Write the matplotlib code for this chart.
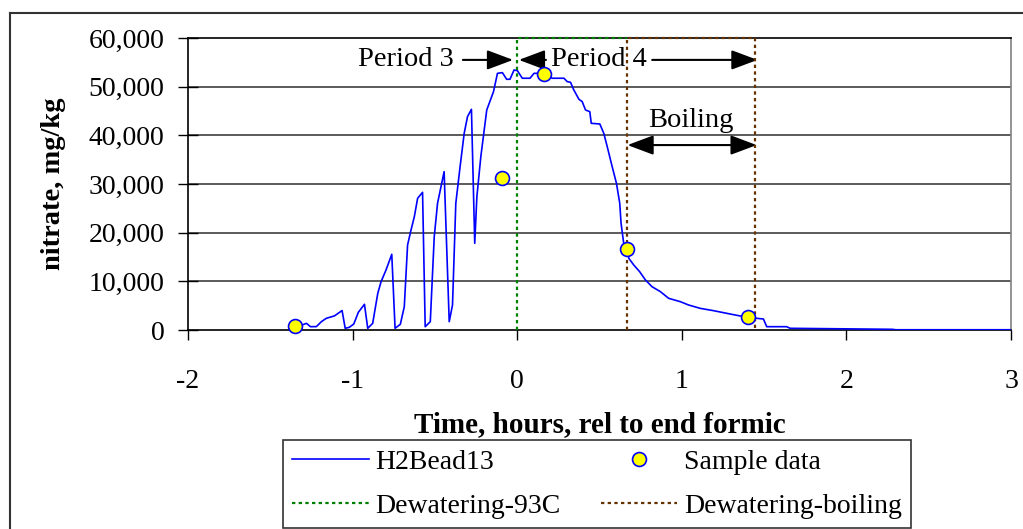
import numpy as np
import matplotlib
matplotlib.use('Agg')
import matplotlib.pyplot as plt
from matplotlib.lines import Line2D
from matplotlib.ticker import FuncFormatter

plt.rcParams['font.family'] = 'Liberation Serif'
plt.rcParams['font.size'] = 20
plt.rcParams['axes.unicode_minus'] = False

# H2Bead13 trace, hours relative to end of formic vs nitrate mg/kg
time_h = [-1.345, -1.31, -1.28, -1.256, -1.22, -1.19, -1.16, -1.11, -1.064, -1.045,
          -1.02, -0.993, -0.965, -0.928, -0.908, -0.878, -0.847, -0.827, -0.797, -0.762,
          -0.742, -0.71, -0.686, -0.666, -0.645, -0.625, -0.605, -0.575, -0.559, -0.528,
          -0.504, -0.484, -0.444, -0.413, -0.393, -0.373, -0.347, -0.322, -0.302, -0.278,
          -0.258, -0.245, -0.221, -0.185, -0.144, -0.12, -0.09, -0.064, -0.044, -0.019,
          0.001, 0.031, 0.078, 0.102, 0.14, 0.17, 0.20, 0.213, 0.284, 0.304,
          0.324, 0.344, 0.375, 0.395, 0.415, 0.441, 0.45, 0.502, 0.526, 0.547,
          0.577, 0.603, 0.623, 0.631, 0.647, 0.668, 0.678, 0.708, 0.744, 0.779,
          0.819, 0.87, 0.92, 0.991, 1.041, 1.112, 1.193, 1.274, 1.355, 1.395,
          1.456, 1.496, 1.516, 1.637, 1.658, 2.28, 2.30, 3.0]
nitrate = [800, 1000, 1370, 680, 700, 1700, 2400, 2900, 4000, 350,
           550, 1230, 3640, 5280, 350, 1370, 7540, 9930, 12330, 15550,
           350, 1170, 4790, 17470, 20550, 23280, 27060, 28290, 680, 1710,
           19170, 26030, 32540, 1710, 5140, 26030, 33560, 40420, 43830, 45350,
           17810, 27400, 35620, 45210, 48970, 52740, 52880, 51520, 51520, 53430,
           53290, 51730, 51730, 52740, 52740, 52740, 52000, 51730, 51730, 51040,
           50900, 49320, 47410, 46920, 45210, 44860, 42470, 42330, 40420, 37670,
           33560, 30150, 26030, 21930, 17810, 16650, 14730, 13360, 11980, 10280,
           8900, 7880, 6510, 5820, 5140, 4450, 3970, 3420, 2880, 2740,
           2400, 2260, 680, 680, 350, 140, 50, 50]

sample_t = [-1.35, -0.09, 0.16, 0.67, 1.40]
sample_v = [800, 31200, 52700, 16600, 2700]

dew93_t = [0, 0, 0.668]
dew93_v = [0, 60000, 60000]
dewboil_t = [0.668, 0.668, 1.445, 1.445]
dewboil_v = [0, 60000, 60000, 0]

fig = plt.figure(figsize=(10.23, 5.29), dpi=100)
ax = fig.add_axes([188/1023, 1-330/529, (1011-188)/1023, (330-38)/529])

for yv in range(10000, 60000, 10000):
    ax.axhline(yv, color='#404040', lw=1.2, zorder=1)

h_line, = ax.plot(time_h, nitrate, '-', color='#0000FF', lw=1.2, label='H2Bead13', zorder=3)
h_samp, = ax.plot(sample_t, sample_v, 'o', ls='none', color='#FFFF00', mec='#0000FF', mew=1.2,
                  ms=10, label='Sample data', zorder=5, clip_on=False)
h_93, = ax.plot(dew93_t, dew93_v, color='#008000', lw=1.6, ls=(0, (1.5, 1.5)),
                label='Dewatering-93C', zorder=4, clip_on=False)
h_boil, = ax.plot(dewboil_t, dewboil_v, color='#663300', lw=1.6, ls=(0, (1.5, 1.5)),
                  label='Dewatering-boiling', zorder=4, clip_on=False)

ax.set_xlim(-2, 3)
ax.set_ylim(0, 60000)
ax.set_xticks(range(-2, 4))
ax.set_yticks(range(0, 60001, 10000))
ax.yaxis.set_major_formatter(FuncFormatter(lambda v, p: f"{int(v):,}"))
ax.tick_params(axis='y', direction='inout', length=14, width=1, pad=10, labelsize=20)
ax.tick_params(axis='x', direction='out', length=7, width=1, pad=21, labelsize=20)

for s in ['left', 'bottom', 'top']:
    ax.spines[s].set_color('black')
    ax.spines[s].set_linewidth(1.2)
ax.spines['right'].set_color('#808080')
ax.spines['right'].set_linewidth(1.2)

ax.set_ylabel('nitrate, mg/kg', fontweight='bold', fontsize=20.5, labelpad=16)
ax.set_xlabel('Time, hours, rel to end formic', fontweight='bold', fontsize=21, labelpad=12)

# annotations
arr = dict(arrowstyle='-|>,head_length=0.8,head_width=0.3', color='black', lw=1.5,
           shrinkA=0, shrinkB=0)
ax.text(-0.676, 55500, 'Period 3', ha='center', va='center', fontsize=20.5)
ax.annotate('', xy=(-0.025, 55500), xytext=(-0.33, 55500), arrowprops=arr)
ax.text(0.495, 55500, 'Period 4', ha='center', va='center', fontsize=20.5)
ax.annotate('', xy=(0.01, 55500), xytext=(0.175, 55500), arrowprops=arr)
ax.annotate('', xy=(1.46, 55500), xytext=(0.82, 55500), arrowprops=arr)
ax.text(1.057, 43000, 'Boiling', ha='center', va='center', fontsize=20.5)
ax.annotate('', xy=(1.455, 38000), xytext=(0.67, 38000),
            arrowprops=dict(arrowstyle='<|-|>,head_length=0.8,head_width=0.3',
                            color='black', lw=1.5, shrinkA=0, shrinkB=0))

leg = fig.legend([h_line, h_93, h_samp, h_boil],
                 ['H2Bead13', 'Dewatering-93C', 'Sample data', 'Dewatering-boiling'],
                 loc='upper left', bbox_to_anchor=(283/1023, 1-440/529), ncol=2,
                 fontsize=20, frameon=True, fancybox=False, edgecolor='black',
                 handlelength=2.75, handletextpad=0.25, columnspacing=1.45,
                 borderpad=0.33, labelspacing=0.67, numpoints=1, borderaxespad=0)
leg.get_frame().set_linewidth(1.2)

# outer chart border (cut off at right and bottom)
fig.add_artist(Line2D([10/1023, 10/1023], [0, 1-13/529], color='#333333', lw=1.5))
fig.add_artist(Line2D([10/1023, 1], [1-13/529, 1-13/529], color='#333333', lw=1.5))

fig.savefig('out.png', dpi=100)
